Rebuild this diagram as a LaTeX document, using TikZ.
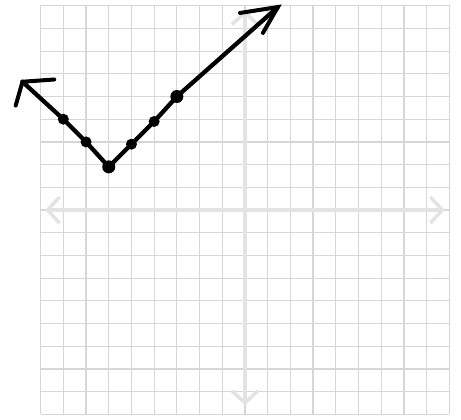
\documentclass[tikz,border=0pt]{standalone}
\usetikzlibrary{arrows.meta}
\begin{document}
\begin{tikzpicture}[x=22.7pt,y=22.7pt,
  gridline/.style={draw=gray!32,line width=1.2pt},
  axisline/.style={draw=gray!22,line width=4pt,{Straight Barb[length=12pt,width=26pt,line width=3.5pt]}-{Straight Barb[length=12pt,width=26pt,line width=3.5pt]}},
  graphline/.style={draw=black,line width=4.3pt,line join=round,line cap=round},
  headline/.style={draw=black,line width=4pt,line cap=round},
  ptdot/.style={circle,fill=black,inner sep=0pt,minimum size=11pt}]
\useasboundingbox (-10.79,-9.207) rectangle (9.515,9.251);
\fill[white] (-10.79,-9.207) rectangle (9.515,9.251);
% grid
\foreach \i in {-9,...,9} {
  \draw[gridline] (\i,-9) -- (\i,9.05);
  \draw[gridline] (-9,\i) -- (9,\i);
}
% axes
\coordinate (xl) at (-8.8,0);
\coordinate (xr) at (8.8,0);
\coordinate (yt) at (0,8.8);
\coordinate (yb) at (0,-8.6);
\draw[axisline] (xl) -- (xr);
\draw[axisline] (yb) -- (yt);
% graph
\coordinate (L) at (-9.8,5.65);
\node[ptdot] (p1) at (-8,4) {};
\node[ptdot] (p2) at (-7,3) {};
\node[ptdot,minimum size=13pt] (v) at (-6,1.9) {};
\node[ptdot] (p4) at (-5,2.9) {};
\node[ptdot] (p5) at (-4,3.9) {};
\node[ptdot,minimum size=13pt] (p6) at (-3,5) {};
\coordinate (R) at (1.45,8.94);
\draw[graphline] (L) -- (p1.center) -- (p2.center) -- (v.center) -- (p4.center) -- (p5.center) -- (p6.center) -- (R);
% hand-drawn arrow heads
\coordinate (La) at (-10.1,4.6);
\coordinate (Lb) at (-8.4,5.75);
\draw[headline] (La) -- (L) -- (Lb);
\coordinate (Ra) at (-0.22,8.68);
\coordinate (Rb) at (0.79,7.8);
\draw[headline] (Ra) -- (R) -- (Rb);
\end{tikzpicture}
\end{document}
